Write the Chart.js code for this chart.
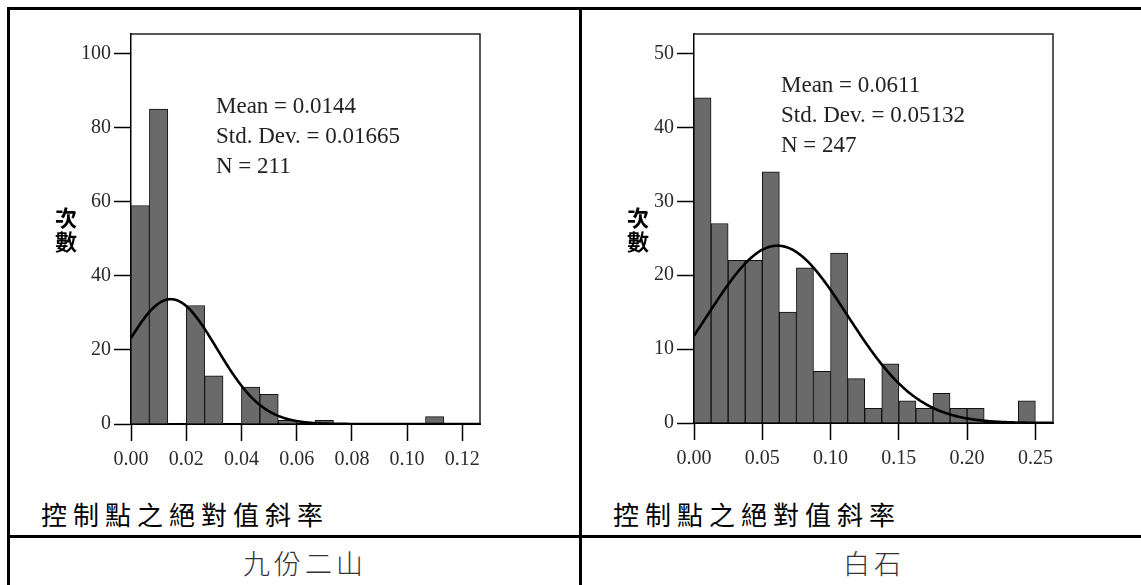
<!DOCTYPE html>
<html>
<head>
<meta charset="utf-8">
<script src="https://cdn.jsdelivr.net/npm/chart.js@4/dist/chart.umd.min.js"></script>
<style>
  html, body { margin: 0; padding: 0; background: #fff; }
  #page { position: relative; width: 1141px; height: 585px; overflow: hidden; background: #fff; }
  canvas { position: absolute; top: 0; }
  .rule { position: absolute; background: #000; }
  .ytitle { position: absolute; width: 30px; text-align: center; font: bold 22px "Noto Sans CJK TC", sans-serif; line-height: 24px; color: #000; }
  .xtitle { position: absolute; white-space: nowrap; font: 26px "Noto Sans CJK TC", sans-serif; line-height: 30px; letter-spacing: 6px; color: #000; }
  .cell { position: absolute; width: 300px; text-align: center; white-space: nowrap; font: 300 27px "Noto Sans CJK TC", sans-serif; line-height: 30px; letter-spacing: 4px; padding-left: 4px; box-sizing: border-box; color: #333; }
</style>
</head>
<body>
<div id="page">
  <canvas id="chartA" width="560" height="480" style="left:0px"></canvas>
  <canvas id="chartB" width="560" height="480" style="left:560px"></canvas>

  <div class="ytitle" style="left:51px; top:204px">次<br>數</div>
  <div class="ytitle" style="left:623px; top:204px">次<br>數</div>

  <div class="xtitle" style="left:41px; top:499px">控制點之絕對值斜率</div>
  <div class="xtitle" style="left:613px; top:499px">控制點之絕對值斜率</div>

  <div class="cell" style="left:153px; top:548px">九份二山</div>
  <div class="cell" style="left:722px; top:548px">白石</div>

  <!-- table rules -->
  <div class="rule" style="left:7px; top:7px; width:1134px; height:3px"></div>
  <div class="rule" style="left:7px; top:7px; width:3px; height:578px"></div>
  <div class="rule" style="left:579px; top:7px; width:3px; height:578px"></div>
  <div class="rule" style="left:7px; top:535px; width:1134px; height:3px"></div>
</div>

<script>
// 九份二山: frequency per bin (bin width 0.02/3)
const binWidthA = 0.02 / 3;
const countsA = [59, 85, 0, 32, 13, 0, 10, 8, 1, 0, 1, 0, 0, 0, 0, 0, 2, 0];
const xTicksA = [0.00, 0.02, 0.04, 0.06, 0.08, 0.10, 0.12];
const yTicksA = [0, 20, 40, 60, 80, 100];
const xMaxA = 0.1264;
const yMaxA = 105.3;
const meanA = 0.0144;
const sdA = 0.01665;
const nA = 211;
const statLinesA = ['Mean = 0.0144', 'Std. Dev. = 0.01665', 'N = 211'];

// 白石: frequency per bin (bin width 0.0125)
const binWidthB = 0.0125;
const countsB = [44, 27, 22, 22, 34, 15, 21, 7, 23, 6, 2, 8, 3, 2, 4, 2, 2, 0, 0, 3];
const xTicksB = [0.00, 0.05, 0.10, 0.15, 0.20, 0.25];
const yTicksB = [0, 10, 20, 30, 40, 50];
const xMaxB = 0.2629;
const yMaxB = 52.65;
const meanB = 0.0611;
const sdB = 0.05132;
const nB = 247;
const statLinesB = ['Mean = 0.0611', 'Std. Dev. = 0.05132', 'N = 247'];

const tickFont = { family: '"Liberation Serif", "Times New Roman", serif', size: 20 };

// Frame around the plot area plus the summary statistics text
const frameAndStats = {
  id: 'frameAndStats',
  afterDraw(chart, args, opts) {
    const { ctx, chartArea: a } = chart;
    ctx.save();
    ctx.strokeStyle = '#222';
    ctx.lineWidth = 1.5;
    ctx.beginPath();
    ctx.moveTo(a.left, a.top);
    ctx.lineTo(a.right, a.top);
    ctx.lineTo(a.right, a.bottom);
    ctx.stroke();

    ctx.fillStyle = '#222';
    ctx.font = '23px "Liberation Serif", "Times New Roman", serif';
    ctx.textAlign = 'left';
    ctx.textBaseline = 'alphabetic';
    opts.lines.forEach((t, i) => ctx.fillText(t, opts.x, opts.y + i * 30));
    ctx.restore();
  }
};

// Normal curve scaled to counts: N * binWidth * pdf(x)
function normalCurve(mean, sd, n, bin, xMax) {
  const pts = [];
  const steps = 300;
  for (let k = 0; k <= steps; k++) {
    const x = xMax * k / steps;
    const z = (x - mean) / sd;
    pts.push({ x, y: n * bin * Math.exp(-0.5 * z * z) / (sd * Math.sqrt(2 * Math.PI)) });
  }
  return pts;
}

function histogram(canvasId, o) {
  const bars = o.counts.map((c, i) => ({ x: (i + 0.5) * o.bin, y: c }));
  const curve = normalCurve(o.mean, o.sd, o.n, o.bin, o.xMax);
  return new Chart(document.getElementById(canvasId), {
    type: 'bar',
    data: {
      datasets: [
        { type: 'line', data: curve, borderColor: '#000', borderWidth: 2.6, pointRadius: 0, tension: 0, fill: false, order: 0 },
        { type: 'bar', data: bars, backgroundColor: '#6a6a6a', borderColor: '#111', borderWidth: 1,
          barPercentage: 1, categoryPercentage: 1, order: 1 }
      ]
    },
    options: {
      responsive: false,
      animation: false,
      devicePixelRatio: 1,
      layout: { padding: { top: 34, right: o.padRight, left: 0, bottom: 0 } },
      plugins: {
        legend: { display: false },
        tooltip: { enabled: false },
        frameAndStats: { lines: o.lines, x: o.statX, y: o.statY }
      },
      scales: {
        x: {
          type: 'linear', min: 0, max: o.xMax, offset: false,
          afterBuildTicks: s => { s.ticks = o.xTicks.map(v => ({ value: v })); },
          afterFit: s => { s.height = o.xHeight; },
          grid: { offset: false, drawOnChartArea: false, drawTicks: true, tickLength: 17, tickColor: '#000', tickWidth: 1.5 },
          border: { display: true, color: '#000', width: 2 },
          ticks: { callback: v => Number(v).toFixed(2), font: tickFont, color: '#2a2a2a', padding: 7,
                   maxRotation: 0, autoSkip: false }
        },
        y: {
          type: 'linear', min: 0, max: o.yMax,
          afterBuildTicks: s => { s.ticks = o.yTicks.map(v => ({ value: v })); },
          afterFit: s => { s.width = o.yWidth; },
          grid: { drawOnChartArea: false, drawTicks: true, tickLength: 17, tickColor: '#000', tickWidth: 1.5 },
          border: { display: true, color: '#000', width: 1.5 },
          ticks: { callback: v => String(v), font: tickFont, color: '#2a2a2a', padding: 3 }
        }
      }
    },
    plugins: [frameAndStats]
  });
}

histogram('chartA', {
  counts: countsA, bin: binWidthA, xTicks: xTicksA, yTicks: yTicksA, xMax: xMaxA, yMax: yMaxA,
  mean: meanA, sd: sdA, n: nA, lines: statLinesA,
  yWidth: 131, xHeight: 56, padRight: 80, statX: 216, statY: 113
});

histogram('chartB', {
  counts: countsB, bin: binWidthB, xTicks: xTicksB, yTicks: yTicksB, xMax: xMaxB, yMax: yMaxB,
  mean: meanB, sd: sdB, n: nB, lines: statLinesB,
  yWidth: 134, xHeight: 57, padRight: 67, statX: 221, statY: 92
});
</script>
</body>
</html>
